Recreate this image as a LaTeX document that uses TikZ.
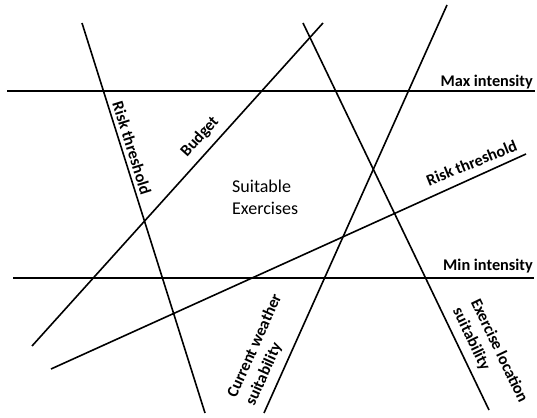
\documentclass[tikz,border=0pt]{standalone}
\usepackage{fontspec}
\setmainfont{Carlito}
\begin{document}
\begin{tikzpicture}[x=1pt,y=1pt,
  lin/.style={line width=1.6pt, black},
  lab/.style={font=\bfseries\fontsize{16.3}{20}\selectfont, inner sep=0pt},
  plain/.style={font=\fontsize{18}{22}\selectfont, inner sep=0pt}
]
\useasboundingbox (0,0) rectangle (537,417);
\fill[white] (0,0) rectangle (537,417);
% line end points
\coordinate (maxL) at (7,326);   \coordinate (maxR) at (535,326);
\coordinate (minL) at (13,139);  \coordinate (minR) at (534,139);
\coordinate (rlT) at (82,394);   \coordinate (rlB) at (205,4);
\coordinate (buB) at (32,71);    \coordinate (buT) at (323,394);
\coordinate (rrL) at (51,48);    \coordinate (rrR) at (526,263);
\coordinate (cwB) at (264,4);    \coordinate (cwT) at (447,412);
\coordinate (elT) at (303,394);  \coordinate (elB) at (489,7);
% lines
\draw[lin] (maxL) -- (maxR);
\draw[lin] (minL) -- (minR);
\draw[lin] (rlT) -- (rlB);
\draw[lin] (buB) -- (buT);
\draw[lin] (rrL) -- (rrR);
\draw[lin] (cwB) -- (cwT);
\draw[lin] (elT) -- (elB);
% labels
\node[lab, anchor=base east] (maxlab) at (533,330.5) {Max intensity};
\node[lab, anchor=base east] (minlab) at (533,146.7) {Min intensity};
\node[lab, rotate=-72.5] (risklab1) at (132,269) {Risk threshold};
\node[lab, rotate=48] (budlab) at (200,280) {Budget};
\node[lab, rotate=22] (risklab2) at (471.5,254) {Risk threshold};
\node[lab, rotate=65.9, anchor=south west, align=left] (wlab) at (256.9,8.9) {Current weather\\suitability};
\node[lab, rotate=-64.3, anchor=south west, align=left] (elab) at (450,105) {Exercise location\\suitability};
\node[plain, align=left, anchor=north west] (suit) at (232,237.5) {Suitable\\Exercises};
\end{tikzpicture}
\end{document}
